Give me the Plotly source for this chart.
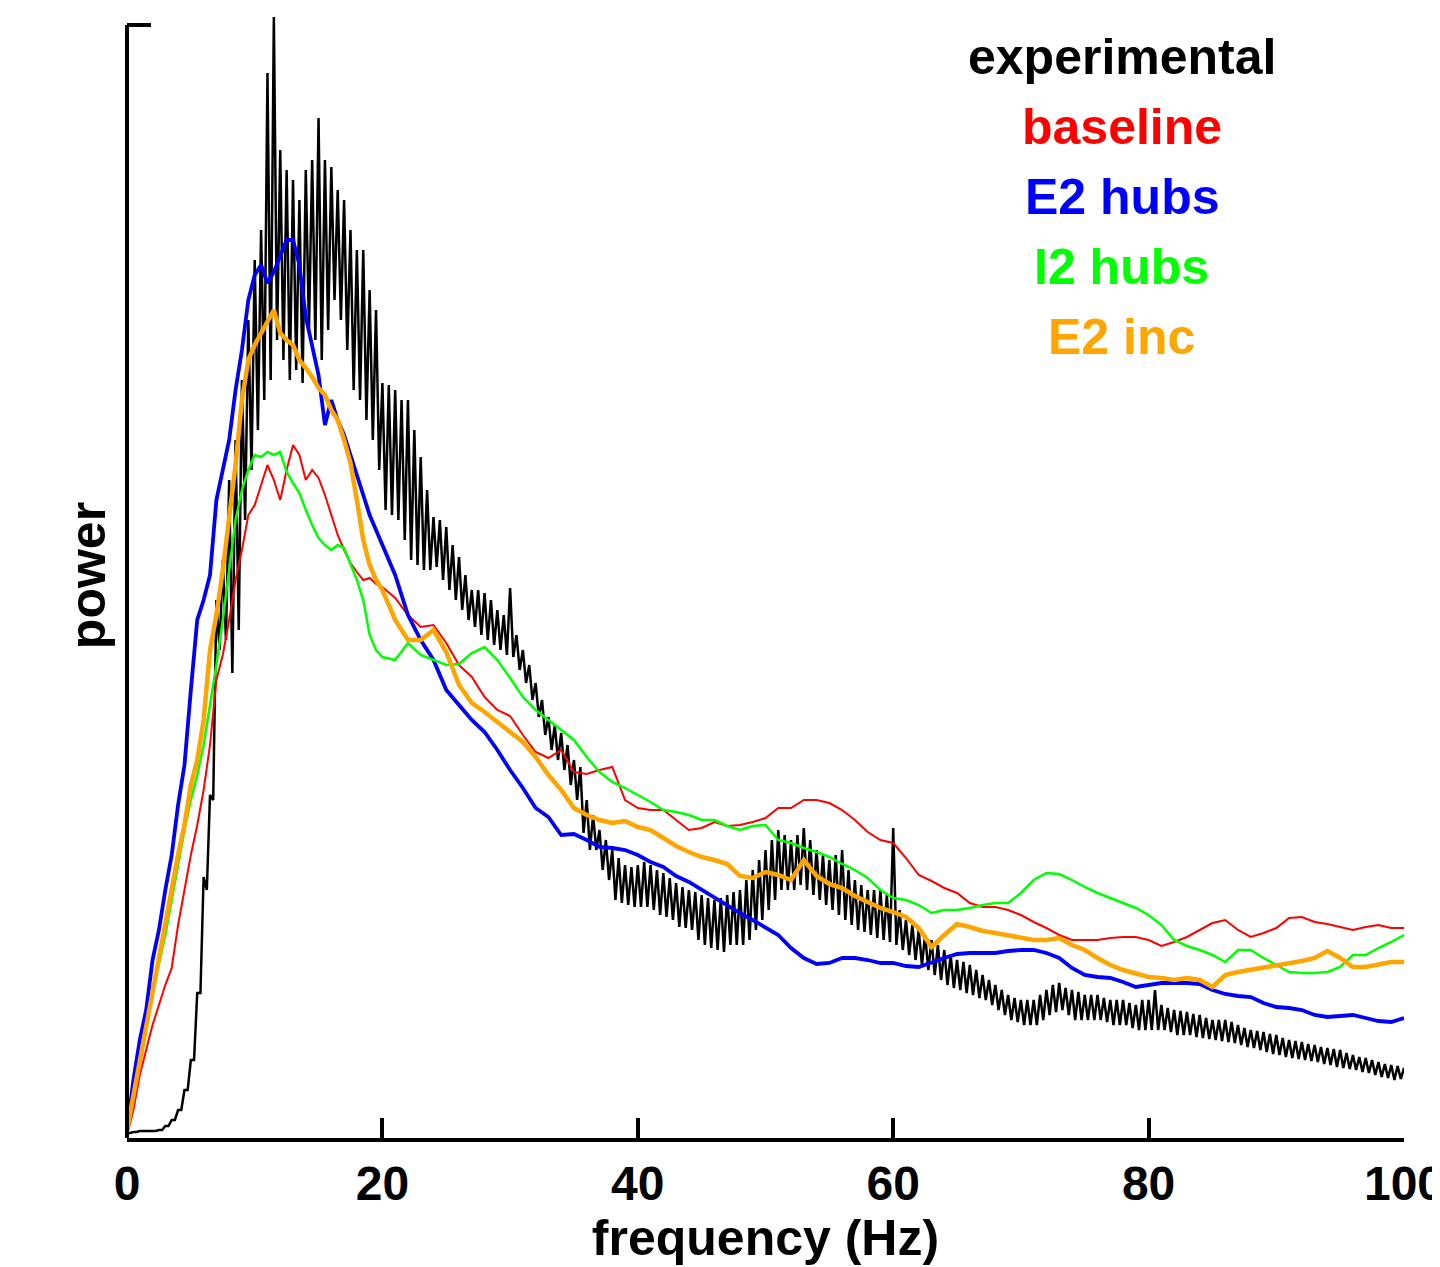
import numpy as np
import plotly.graph_objects as go

# ---------------- data (power in arbitrary units) ----------------
# experimental: noisy trace, local peak and trough values on a 0.5 Hz grid
exp_freq = np.arange(0, 100.01, 0.5)
exp_hi = [0.5, 0.6, 0.7, 0.7, 0.7, 0.8, 1.2, 1.8, 2.8, 4.8,
          7.8, 14.5, 26.1, 34.3, 53.8, 57.8, 65.8, 69.8, 75.8, 81.8,
          87.8, 90.8, 106.5, 112.1, 98.8, 96.8, 95.8, 93.8, 96.8, 97.8,
          102.0, 97.8, 97.1, 94.8, 93.8, 90.8, 88.8, 88.8, 84.8, 82.8,
          75.5, 75.3, 74.8, 73.8, 73.8, 70.8, 68.1, 64.8, 62.1, 61.8,
          61.1, 59.3, 58.1, 56.3, 54.8, 54.8, 54.5, 53.8, 52.8, 52.3,
          55.0, 50.3, 48.8, 47.3, 45.5, 43.8, 42.1, 41.3, 40.5, 39.3,
          37.8, 37.1, 33.8, 32.3, 30.8, 29.8, 28.8, 28.0, 27.3, 27.1,
          27.3, 27.6, 27.3, 26.8, 26.5, 26.0, 25.5, 25.1, 24.8, 24.6,
          24.3, 24.0, 23.8, 24.0, 24.3, 24.6, 24.8, 25.8, 26.8, 27.8,
          28.8, 29.8, 30.8, 30.3, 29.8, 30.3, 31.0, 29.8, 28.8, 28.3,
          27.8, 28.3, 28.8, 26.8, 25.8, 25.3, 24.8, 24.8, 24.8, 24.3,
          31.0, 22.8, 21.8, 21.3, 20.8, 20.3, 19.8, 19.3, 18.8, 18.3,
          17.8, 17.6, 17.3, 16.8, 16.3, 15.8, 15.3, 14.8, 14.3, 14.0,
          13.8, 13.8, 13.8, 14.3, 14.8, 15.3, 15.5, 15.0, 14.8, 14.6,
          14.3, 14.3, 14.3, 14.0, 13.8, 13.8, 13.8, 13.5, 13.3, 13.8,
          13.8, 14.8, 13.3, 13.0, 12.8, 12.7, 12.6, 12.4, 12.3, 12.0,
          11.8, 11.8, 11.8, 11.6, 11.3, 11.0, 10.8, 10.7, 10.6, 10.4,
          10.3, 10.0, 9.8, 9.7, 9.6, 9.4, 9.3, 9.1, 9.0, 8.9,
          8.8, 8.5, 8.3, 8.1, 8.0, 7.8, 7.6, 7.4, 7.3, 7.2,
          7.0]
exp_lo = [0.5, 0.6, 0.7, 0.7, 0.7, 0.8, 1.2, 1.8, 2.8, 4.8,
          7.8, 14.5, 24.8, 33.8, 48.8, 49.8, 46.5, 50.8, 61.8, 66.8,
          70.8, 73.8, 75.8, 79.8, 77.8, 75.8, 76.8, 75.5, 80.8, 79.8,
          77.8, 80.8, 83.8, 81.8, 78.8, 74.8, 73.8, 71.8, 69.8, 66.8,
          62.8, 62.3, 61.8, 59.8, 57.8, 57.3, 56.8, 56.8, 57.1, 55.8,
          54.8, 53.8, 52.8, 51.8, 51.1, 50.3, 49.8, 49.3, 48.8, 48.3,
          48.1, 46.8, 45.5, 43.8, 42.1, 40.3, 38.8, 37.8, 36.8, 35.3,
          33.8, 30.5, 28.8, 28.8, 26.8, 25.8, 23.8, 23.5, 23.3, 23.1,
          23.1, 23.1, 22.8, 22.3, 22.1, 21.8, 21.1, 21.0, 20.8, 19.8,
          19.3, 19.0, 18.8, 18.6, 19.3, 19.3, 19.3, 19.8, 20.8, 21.8,
          22.8, 23.8, 24.8, 24.8, 24.8, 25.3, 24.8, 24.3, 23.8, 23.3,
          22.8, 22.3, 21.8, 21.3, 20.8, 20.6, 20.3, 20.0, 19.8, 19.6,
          19.3, 18.8, 18.3, 17.8, 17.3, 16.8, 16.3, 15.8, 15.3, 15.0,
          14.8, 14.5, 14.3, 14.0, 13.8, 13.3, 12.8, 12.3, 11.8, 11.6,
          11.3, 11.3, 11.3, 11.8, 12.3, 12.6, 12.8, 12.3, 11.8, 11.8,
          11.8, 11.8, 11.8, 11.6, 11.3, 11.3, 11.3, 11.0, 10.8, 10.8,
          10.8, 10.8, 10.8, 10.6, 10.3, 10.3, 10.3, 10.1, 10.0, 9.9,
          9.8, 9.7, 9.6, 9.5, 9.3, 9.1, 9.0, 8.8, 8.6, 8.4,
          8.3, 8.1, 8.0, 7.9, 7.8, 7.7, 7.6, 7.4, 7.3, 7.1,
          7.0, 6.9, 6.8, 6.6, 6.5, 6.3, 6.1, 6.0, 5.8, 5.9,
          6.0]

# model traces: 0.5 Hz grid up to 20 Hz, then 1 Hz grid
model_freq = list(np.arange(0, 20, 0.5)) + list(np.arange(20, 100.01, 1.0))

baseline = [0.3, 2.8, 6.3, 8.8, 11.3, 13.3, 15.3, 17.0, 21.3, 24.8,
            28.3, 31.3, 34.8, 39.3, 45.8, 48.3, 51.8, 55.8, 58.8, 62.3,
            63.3, 65.3, 67.3, 65.8, 63.8, 66.8, 69.3, 68.3, 65.8, 66.8,
            66.0, 64.3, 62.3, 60.3, 58.8, 57.5, 56.6, 55.8, 56.0, 55.4,
            55.1, 54.0, 52.3, 51.1, 51.3, 49.5, 47.3, 46.1, 44.1, 42.8,
            42.2, 40.3, 38.6, 38.0, 38.8, 36.6, 36.4, 36.8, 37.1, 33.8,
            33.0, 32.8, 32.8, 31.8, 30.8, 31.0, 31.6, 31.2, 31.3, 31.6,
            32.0, 33.0, 33.0, 33.8, 33.8, 33.5, 32.8, 31.8, 30.6, 29.8,
            29.5, 28.0, 26.3, 25.7, 25.0, 24.5, 23.5, 23.1, 23.1, 22.8,
            22.3, 21.6, 21.0, 20.3, 19.8, 19.8, 19.8, 20.0, 20.1, 20.1,
            19.8, 19.2, 19.6, 20.1, 20.8, 21.5, 21.8, 20.8, 20.1, 20.5,
            21.0, 22.0, 22.1, 21.6, 21.4, 21.1, 20.8, 21.1, 21.3, 21.0,
            21.0]

e2_hubs = [0.8, 5.8, 9.8, 12.8, 17.8, 20.8, 24.8, 28.3, 33.3, 37.3,
           44.8, 51.8, 53.8, 56.3, 63.8, 66.8, 69.8, 74.8, 78.8, 83.8,
           86.3, 87.3, 85.5, 86.6, 88.3, 89.8, 89.8, 87.3, 82.1, 79.3,
           76.3, 71.3, 73.8, 71.8, 70.3, 68.3, 66.3, 64.3, 62.3, 60.8,
           59.3, 56.3, 52.3, 49.8, 47.8, 44.8, 43.3, 41.8, 40.6, 38.8,
           36.8, 35.0, 33.0, 32.1, 30.3, 30.4, 29.8, 29.1, 29.0, 28.8,
           28.3, 27.6, 27.1, 26.2, 25.6, 24.8, 24.1, 23.3, 22.5, 21.8,
           21.1, 20.3, 19.0, 18.0, 17.4, 17.5, 18.0, 18.0, 17.8, 17.5,
           17.5, 17.2, 17.1, 17.6, 18.0, 18.4, 18.5, 18.5, 18.5, 18.7,
           18.8, 18.8, 18.5, 18.0, 17.0, 16.3, 16.1, 16.0, 15.6, 15.1,
           15.3, 15.5, 15.5, 15.5, 15.4, 14.8, 14.4, 14.2, 14.1, 13.5,
           13.1, 13.0, 12.8, 12.3, 12.1, 12.2, 12.3, 12.0, 11.7, 11.6,
           12.0]

i2_hubs = [0.6, 4.3, 7.8, 11.3, 14.5, 17.3, 20.3, 23.8, 27.3, 30.8,
           33.8, 36.3, 39.3, 43.3, 47.3, 51.8, 56.8, 61.8, 64.8, 66.8,
           68.3, 68.1, 68.6, 68.3, 68.6, 66.6, 65.5, 64.5, 62.8, 61.3,
           60.0, 59.3, 58.8, 59.3, 59.0, 57.3, 55.8, 53.8, 50.3, 48.8,
           48.1, 47.8, 49.5, 48.3, 47.8, 47.3, 47.4, 48.5, 49.1, 47.8,
           46.0, 44.1, 42.8, 41.8, 40.8, 39.8, 38.1, 36.6, 35.6, 35.0,
           34.3, 33.6, 32.8, 32.6, 32.3, 31.8, 31.8, 31.2, 30.8, 31.2,
           31.3, 29.8, 29.5, 29.0, 28.6, 28.1, 27.4, 26.8, 26.0, 24.8,
           24.0, 23.8, 23.3, 22.5, 22.8, 22.8, 23.0, 23.3, 23.5, 23.5,
           24.5, 25.8, 26.5, 26.4, 25.8, 25.1, 24.5, 24.0, 23.5, 23.0,
           22.3, 21.3, 19.8, 19.2, 18.8, 18.3, 17.6, 18.8, 18.8, 18.0,
           17.3, 16.6, 16.5, 16.5, 16.6, 17.1, 18.3, 18.3, 19.0, 19.6,
           20.3]

e2_inc = [0.8, 4.3, 7.8, 11.3, 14.8, 18.3, 21.8, 25.3, 28.3, 31.3,
          35.3, 37.8, 41.8, 48.8, 52.3, 56.8, 61.8, 67.3, 73.8, 77.8,
          79.3, 80.5, 81.8, 82.8, 80.5, 79.8, 79.3, 77.8, 77.0, 76.1,
          75.0, 74.3, 72.8, 71.8, 69.8, 67.5, 63.8, 59.8, 57.3, 55.8,
          54.8, 51.8, 49.8, 49.8, 50.8, 48.6, 45.3, 43.5, 42.6, 41.6,
          40.6, 39.6, 38.1, 36.3, 34.8, 33.0, 32.3, 31.8, 31.5, 31.7,
          31.1, 30.8, 30.0, 29.2, 28.6, 28.1, 27.8, 27.4, 26.2, 26.0,
          26.6, 26.3, 25.8, 27.8, 26.2, 25.4, 25.0, 24.2, 23.6, 23.0,
          22.6, 22.1, 21.0, 19.1, 20.3, 21.4, 21.1, 20.7, 20.5, 20.3,
          20.1, 19.8, 19.8, 20.0, 19.3, 18.8, 18.0, 17.3, 16.8, 16.5,
          16.1, 16.0, 15.8, 16.0, 15.8, 15.1, 16.3, 16.6, 16.8, 17.0,
          17.3, 17.5, 17.7, 18.0, 18.7, 18.0, 17.1, 17.1, 17.3, 17.6,
          17.6]

series_names = ["experimental", "baseline", "E2 hubs", "I2 hubs", "E2 inc"]
series_colors = ["#000000", "#ff0000", "#0000ff", "#00ff00", "#ffa500"]
x_ticks = [0, 20, 40, 60, 80, 100]
y_top_tick = 111.3

# ---------------- figure ----------------
FONT = "Liberation Sans, Arial, Helvetica, sans-serif"

# interleave peaks and troughs of the noisy experimental trace
exp_x, exp_y = [], []
for f, hi, lo in zip(exp_freq, exp_hi, exp_lo):
    exp_x += [f, f + 0.25]
    exp_y += [hi, lo]

fig = go.Figure()
fig.add_trace(go.Scatter(x=exp_x, y=exp_y, mode="lines", name=series_names[0],
                         line=dict(color=series_colors[0], width=2.5)))
widths = [2.0, 3.8, 2.5, 4.5]
for name, col, ys, w in zip(series_names[1:], series_colors[1:],
                            [baseline, e2_hubs, i2_hubs, e2_inc], widths):
    fig.add_trace(go.Scatter(x=model_freq, y=ys, mode="lines", name=name,
                             line=dict(color=col, width=w)))

# text legend (coloured words)
for i, (name, col) in enumerate(zip(series_names, series_colors)):
    fig.add_annotation(x=0.779, y=0.961 - i * 0.0622, xref="paper", yref="paper",
                       text=name, showarrow=False, xanchor="center", yanchor="middle",
                       font=dict(family=FONT, size=50, color=col, weight="bold"))

# y axis line (ends at the top bracket)
fig.add_shape(type="line", xref="paper", yref="y", x0=0, x1=0, y0=0, y1=y_top_tick,
              line=dict(color="black", width=4))

# the page body adds an 8 px offset, so the figure is 8 px smaller than the window
fig.update_layout(
    width=1432, height=1259,
    margin=dict(l=119, r=36, t=5, b=129, autoexpand=False),
    paper_bgcolor="white", plot_bgcolor="white",
    showlegend=False,
    font=dict(family=FONT, color="black"),
    xaxis=dict(range=[0, 100], tickvals=x_ticks, ticks="inside", ticklen=20,
               tickwidth=4, tickcolor="black", showline=True, linewidth=4,
               linecolor="black", showgrid=False, zeroline=False,
               automargin=False, ticklabeloverflow="allow",
               tickfont=dict(family=FONT, size=48, color="black", weight="bold"),
               title=dict(text="frequency (Hz)", standoff=4,
                          font=dict(family=FONT, size=50, color="black", weight="bold"))),
    yaxis=dict(range=[0, 112.5], tickvals=[y_top_tick], ticks="inside", ticklen=24,
               tickwidth=4, tickcolor="black", showticklabels=False, showline=False,
               showgrid=False, zeroline=False, automargin=False,
               title=dict(text="power", standoff=4,
                          font=dict(family=FONT, size=50, color="black", weight="bold"))),
)

fig.write_html("out.html")
